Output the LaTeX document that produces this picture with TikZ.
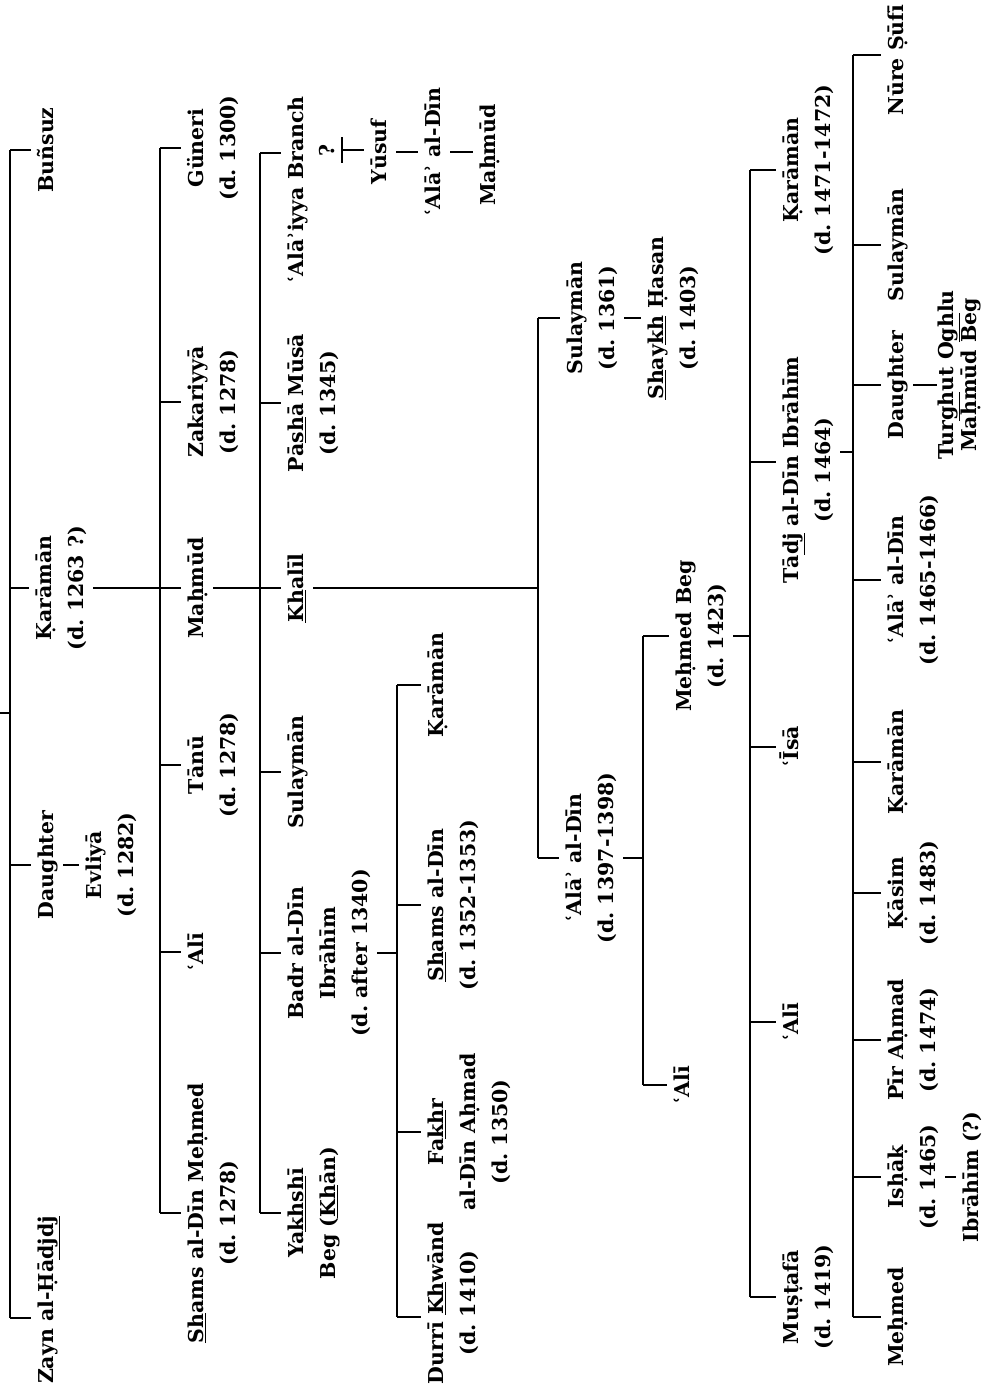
\documentclass[tikz,border=0pt]{standalone}
\usepackage{fontspec}
\setmainfont{DejaVu Serif}
\frenchspacing
\begin{document}
\begin{tikzpicture}[x=1pt,y=-1pt,
  ln/.style={line width=2.8pt, line cap=butt},
  nm/.style={rotate=90, inner sep=0pt, align=center, font=\bfseries\fontsize{20.5}{32}\selectfont},
  nmtight/.style={rotate=90, inner sep=0pt, align=center, font=\bfseries\fontsize{20.5}{23}\selectfont}]
\useasboundingbox (0,0) rectangle (998,1393);

% ---------- generation 1 ----------
\node[nm] (buns) at (47,150) {\strut Buñsuz};
\node[nm] (kar1) at (61,588) {\strut Ḳarāmān\\\strut (d. 1263 ?)};
\node[nm] (dau1) at (47,865) {\strut Daughter};
\node[nm] (evl) at (111,865) {\strut Evliyā\\\strut (d. 1282)};
\node[nm] (zayn) at (47,1300) {\strut Zayn al-Ḥā\underline{djdj}};
\coordinate (g1t) at (10,150);
\coordinate (g1b) at (10,1318);
\coordinate (par) at (0,713);
\draw[ln] (g1t) -- (g1b);
\draw[ln] (10,713) -- (par);
\draw[ln] (g1t) -- (buns.north);
\draw[ln] (10,588) -- (kar1.north);
\draw[ln] (10,865) -- (dau1.north);
\draw[ln] (g1b) -- (zayn.north |- g1b);
\draw[ln] (dau1.south) -- (evl.north);

% ---------- generation 2 ----------
\node[nm] (gun) at (213,148) {\strut Güneri\\\strut (d. 1300)};
\node[nm] (zak) at (213,402) {\strut Zakariyyā\\\strut (d. 1278)};
\node[nm] (mahm) at (197,588) {\strut Maḥmūd};
\node[nm] (tanu) at (213,765) {\strut Tānū\\\strut (d. 1278)};
\node[nm] (ali1) at (197,952) {\strut ʿAlī};
\node[nm] (shm) at (213,1213) {\strut \underline{Sh}ams al-Dīn Meḥmed\\\strut (d. 1278)};
\draw[ln] (kar1.south) -- (mahm.north);
\draw[ln] (160,148) -- (160,1213);
\draw[ln] (160,148) -- (gun.north);
\draw[ln] (160,402) -- (zak.north);
\draw[ln] (160,765) -- (tanu.north);
\draw[ln] (160,952) -- (ali1.north);
\draw[ln] (160,1213) -- (shm.north);

% ---------- generation 3 ----------
\node[nm] (ala) at (297,190) {\strut ʿAlāʾiyya Branch};
\node[nm] (q) at (328,150) {\strut ?};
\node[nm] (yus) at (380,152) {\strut Yūsuf};
\node[nm] (alad) at (434,152) {\strut ʿAlāʾ al-Dīn};
\node[nm] (mahm2) at (489,155) {\strut Maḥmūd};
\node[nm] (pasha) at (313,403) {\strut Pā\underline{sh}ā Mūsā\\\strut (d. 1345)};
\node[nm] (khal) at (297,588) {\strut \underline{Kh}alīl};
\node[nm] (sul1) at (297,772) {\strut Sulaymān};
\node[nm] (badr) at (329,953) {\strut Badr al-Dīn\\\strut Ibrāhīm\\\strut (d. after 1340)};
\node[nm] (yak) at (313,1213) {\strut Ya\underline{khsh}ī\\\strut Beg (\underline{Kh}ān)};
\draw[ln] (mahm.south) -- (khal.north);
\draw[ln] (260,153) -- (260,1213);
\draw[ln] (260,153) -- (ala.north |- 260,153);
\draw[ln] (260,403) -- (pasha.north);
\draw[ln] (260,772) -- (sul1.north);
\draw[ln] (260,953) -- (badr.north);
\draw[ln] (260,1213) -- (yak.north);
\draw[ln] (342,137) -- (342,163);
\draw[ln] (342,150) -- (yus.north |- 342,150);
\draw[ln] (yus.south) -- (alad.north);
\draw[ln] (alad.south) -- (mahm2.north |- alad.south);

% ---------- generation 4 (Khalil) ----------
\node[nm] (sul2) at (592,318) {\strut Sulaymān\\\strut (d. 1361)};
\node[nm] (shay) at (673,318) {\strut \underline{Sh}ay\underline{kh} Ḥasan\\\strut (d. 1403)};
\node[nm] (ala2) at (591,858) {\strut ʿAlāʾ al-Dīn\\\strut (d. 1397-1398)};
\coordinate (g4j) at (538,588);
\draw[ln] (khal.south) -- (g4j);
\draw[ln] (538,318) -- (538,858);
\draw[ln] (538,318) -- (sul2.north);
\draw[ln] (538,858) -- (ala2.north);
\draw[ln] (sul2.south) -- (shay.north);

% ---------- generation 4 (Badr al-Din) ----------
\node[nm] (kar2) at (437,685) {\strut Ḳarāmān};
\node[nm] (shams2) at (453,905) {\strut \underline{Sh}ams al-Dīn\\\strut (d. 1352-1353)};
\node[nm] (fakhr) at (469,1132) {\strut Fa\underline{kh}r\\\strut al-Dīn Aḥmad\\\strut (d. 1350)};
\node[nm] (durri) at (453,1303) {\strut Durrī \underline{Kh}wānd\\\strut (d. 1410)};
\coordinate (g4bj) at (397,953);
\draw[ln] (badr.south) -- (g4bj);
\draw[ln] (397,685) -- (397,1317);
\draw[ln] (397,685) -- (kar2.north);
\draw[ln] (397,905) -- (shams2.north);
\draw[ln] (397,1132) -- (fakhr.north);
\draw[ln] (397,1317) -- (durri.north |- 397,1317);

% ---------- generation 5 ----------
\node[nm] (meb) at (701,636) {\strut Meḥmed Beg\\\strut (d. 1423)};
\node[nm] (ali2) at (683,1085) {\strut ʿAlī};
\coordinate (g5j) at (643,858);
\draw[ln] (ala2.south) -- (g5j);
\draw[ln] (643,636) -- (643,1085);
\draw[ln] (643,636) -- (meb.north);
\draw[ln] (643,1085) -- (ali2.north);

% ---------- generation 6 ----------
\node[nm] (kar3) at (808,170) {\strut Ḳarāmān\\\strut (d. 1471-1472)};
\node[nm] (tadj) at (808,470) {\strut Tā\underline{dj} al-Dīn Ibrāhīm\\\strut (d. 1464)};
\node[nm] (isa) at (792,747) {\strut ʿĪsā};
\node[nm] (ali3) at (792,1022) {\strut ʿAlī};
\node[nm] (must) at (808,1297) {\strut Muṣṭafā\\\strut (d. 1419)};
\coordinate (g6j) at (750,636);
\draw[ln] (meb.south) -- (g6j);
\draw[ln] (750,170) -- (750,1297);
\draw[ln] (750,170) -- (kar3.north);
\draw[ln] (750,462) -- (tadj.north |- 750,462);
\draw[ln] (750,747) -- (isa.north);
\draw[ln] (750,1022) -- (ali3.north);
\draw[ln] (750,1297) -- (must.north);

% ---------- generation 7 ----------
\node[nm] (nure) at (897,60) {\strut Nūre Ṣūfī};
\node[nm] (sul3) at (897,245) {\strut Sulaymān};
\node[nm] (dau2) at (897,385) {\strut Daughter};
\node[nmtight] (turg) at (960,375) {\strut Tur\underline{gh}ut O\underline{gh}lu\\\strut Maḥmūd Beg};
\node[nm] (ala3) at (913,580) {\strut ʿAlāʾ al-Dīn\\\strut (d. 1465-1466)};
\node[nm] (kar4) at (897,762) {\strut Ḳarāmān};
\node[nm] (kasim) at (913,893) {\strut Ḳāsim\\\strut (d. 1483)};
\node[nm] (pir) at (913,1040) {\strut Pīr Aḥmad\\\strut (d. 1474)};
\node[nm] (ishak) at (913,1177) {\strut Isḥāḳ\\\strut (d. 1465)};
\node[nm] (ibr) at (972,1177) {\strut Ibrāhīm (?)};
\node[nm] (mehm) at (897,1317) {\strut Meḥmed};
\coordinate (g7j) at (853,452);
\draw[ln] (tadj.south |- g7j) -- (g7j);
\draw[ln] (853,55) -- (853,1317);
\draw[ln] (853,55) -- (nure.north |- 853,55);
\draw[ln] (853,245) -- (sul3.north);
\draw[ln] (853,385) -- (dau2.north);
\draw[ln] (853,580) -- (ala3.north);
\draw[ln] (853,762) -- (kar4.north);
\draw[ln] (853,893) -- (kasim.north);
\draw[ln] (853,1040) -- (pir.north);
\draw[ln] (853,1177) -- (ishak.north);
\draw[ln] (853,1317) -- (mehm.north);
\draw[ln] (dau2.south) -- (turg.north |- dau2.south);
\draw[ln] (ishak.south) -- (ibr.north);
\end{tikzpicture}
\end{document}
